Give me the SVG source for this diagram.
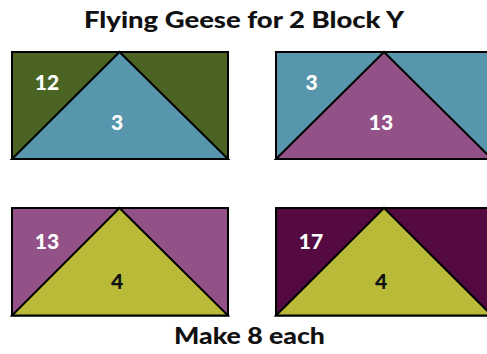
<svg xmlns="http://www.w3.org/2000/svg" width="487" height="354" viewBox="0 0 487 354">
<style>
.t{font-family:Lato,"Liberation Sans",sans-serif;font-weight:900;fill:#111;}
.n{font-family:Lato,"Liberation Sans",sans-serif;font-weight:900;font-size:21px;text-anchor:middle;}
.w{fill:#fff;}
.k{fill:#111;}
.e{stroke:#000;stroke-width:2;stroke-linejoin:miter;}
</style>
<rect width="487" height="354" fill="#fff"/>
<text class="t" x="244" y="28" font-size="22" text-anchor="middle" textLength="320" lengthAdjust="spacingAndGlyphs">Flying Geese for 2 Block Y</text>
<g id="block1">
<rect class="e" x="12" y="52" width="216" height="107" fill="#4b6424"/>
<polygon class="e" points="12,159 119.5,52 228,159" fill="#5796ad"/>
<text class="n w" x="47" y="90">12</text>
<text class="n w" x="117" y="130">3</text>
</g>
<g id="block2">
<rect class="e" x="276" y="52" width="216" height="107" fill="#5796ad"/>
<polygon class="e" points="276,159 384,52 492,159" fill="#935287"/>
<text class="n w" x="311.5" y="90">3</text>
<text class="n w" x="381" y="130">13</text>
</g>
<g id="block3">
<rect class="e" x="12" y="208" width="216" height="107.5" fill="#935287"/>
<polygon class="e" points="12,315.5 119.5,208 228,315.5" fill="#b9bb38"/>
<text class="n w" x="47" y="249">13</text>
<text class="n k" x="117" y="289">4</text>
</g>
<g id="block4">
<rect class="e" x="276" y="208" width="216" height="107.5" fill="#540a40"/>
<polygon class="e" points="276,315.5 384,208 492,315.5" fill="#b9bb38"/>
<text class="n w" x="311" y="249">17</text>
<text class="n k" x="381" y="289">4</text>
</g>
<g id="connectors"/>
<text class="t" x="249.5" y="344" font-size="22" text-anchor="middle" textLength="151" lengthAdjust="spacingAndGlyphs">Make 8 each</text>
</svg>
